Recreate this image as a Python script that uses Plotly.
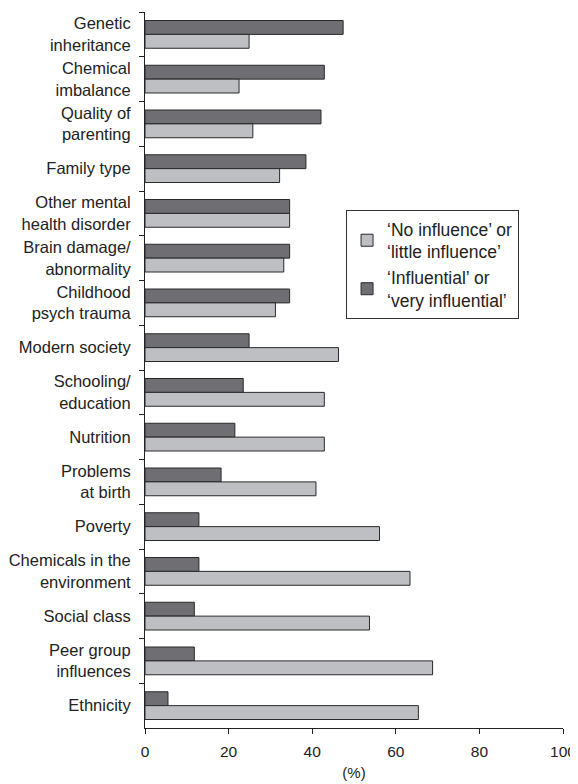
import plotly.graph_objects as go

categories = [
    "Genetic<br>inheritance", "Chemical<br>imbalance", "Quality of<br>parenting", "Family type",
    "Other mental<br>health disorder", "Brain damage/<br>abnormality", "Childhood<br>psych trauma",
    "Modern society", "Schooling/<br>education", "Nutrition", "Problems<br>at birth", "Poverty",
    "Chemicals in the<br>environment", "Social class", "Peer group<br>influences", "Ethnicity",
]
influential = [47.4, 42.9, 42.1, 38.5, 34.6, 34.6, 34.6, 24.9, 23.5, 21.5, 18.2, 12.9, 12.9, 11.8, 11.8, 5.5]
no_influence = [24.9, 22.5, 25.8, 32.2, 34.6, 33.2, 31.2, 46.3, 42.9, 42.9, 40.9, 56.1, 63.4, 53.7, 68.8, 65.4]
x_ticks = [0, 20, 40, 60, 80, 100]

FONT = "Liberation Sans, Arial, Helvetica, sans-serif"
DARK = "#6f6f73"
LIGHT = "#bebfc3"
EDGE = "#2a2a2a"

fig = go.Figure()
fig.add_trace(go.Bar(
    y=categories, x=influential, orientation="h",
    name="‘Influential’ or<br>‘very influential’",
    marker=dict(color=DARK, line=dict(color=EDGE, width=1)),
    legendrank=2,
))
fig.add_trace(go.Bar(
    y=categories, x=no_influence, orientation="h",
    name="‘No influence’ or<br>‘little influence’",
    marker=dict(color=LIGHT, line=dict(color=EDGE, width=1)),
    legendrank=1,
))

# the page body has an 8px margin, so the figure is sized/offset to compensate
fig.update_layout(
    width=570, height=776,
    margin=dict(l=137, r=15, t=4, b=56),
    paper_bgcolor="white", plot_bgcolor="white",
    font=dict(family=FONT, size=16, color="#222"),
    barmode="group", bargap=0.38, bargroupgap=0,
    showlegend=True,
    legend=dict(
        x=0.481, y=0.7235, xanchor="left", yanchor="top",
        bordercolor="#333", borderwidth=1, bgcolor="white",
        font=dict(size=17.5), tracegroupgap=4,
    ),
    xaxis=dict(
        range=[0, 100], tickvals=x_ticks, ticks="outside", ticklen=5,
        tickcolor="#222", showline=True, linecolor="#222", linewidth=1,
        showgrid=False, zeroline=False, automargin=False,
        title=dict(text="(%)", font=dict(size=15), standoff=8),
        tickfont=dict(size=15.5), ticklabelstandoff=4,
    ),
    yaxis=dict(
        autorange="reversed", ticks="outside", tickson="boundaries", ticklen=5,
        tickcolor="#222", showline=True, linecolor="#222", linewidth=1,
        showgrid=False, zeroline=False, ticklabelstandoff=10, automargin=False,
        tickfont=dict(size=16.5),
    ),
)

fig.write_html("out.html")
